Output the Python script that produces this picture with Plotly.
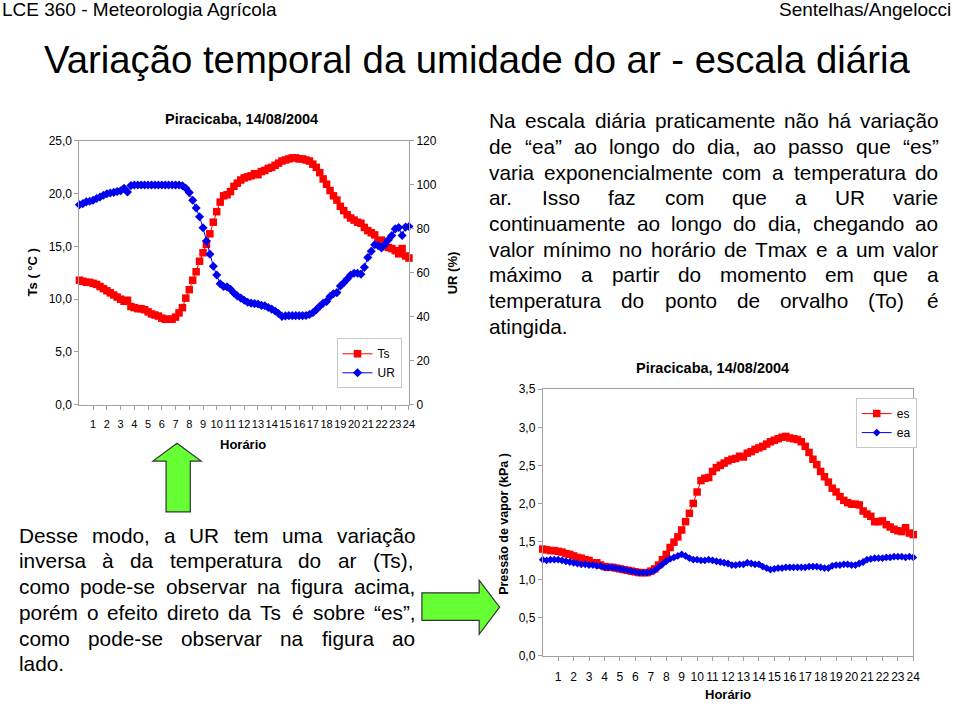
import plotly.graph_objects as go

# ---------------- data ----------------
hours = [i * 0.25 for i in range(97)]  # 00:00 .. 24:00, 15-min steps

ts = [11.8, 11.7, 11.6, 11.6,
      11.5, 11.4, 11.2, 11.0,
      10.8, 10.6, 10.4, 10.2,
      10.0, 9.8, 9.9, 9.3,
      9.2, 9.1, 9.1, 9.0,
      8.8, 8.6, 8.5, 8.4,
      8.2, 8.1, 8.1, 8.1,
      8.3, 8.7, 9.2, 10.1,
      10.9, 11.8, 12.6, 13.6,
      14.4, 15.2, 16.2, 17.3,
      18.3, 19.2, 19.8, 19.9,
      20.2, 20.7, 21.0, 21.3,
      21.5, 21.6, 21.7, 21.9,
      21.8, 22.1, 22.2, 22.4,
      22.5, 22.7, 22.9, 23.1,
      23.2, 23.3, 23.4, 23.4,
      23.3, 23.3, 23.2, 23.1,
      22.8, 22.5, 22.0, 21.4,
      20.9, 20.3, 19.8, 19.4,
      18.8, 18.4, 18.0, 17.7,
      17.5, 17.3, 17.2, 16.8,
      16.5, 16.3, 16.1, 15.5,
      15.6, 15.4, 14.9, 14.8,
      14.6, 14.3, 14.8, 14.1,
      13.9]

ur = [91.0, 91.5, 92.3, 92.6,
      93.0, 93.8, 94.5, 95.3,
      96.0, 96.3, 96.6, 97.0,
      97.3, 98.5, 96.8, 99.7,
      100, 100, 100, 100,
      100, 100, 100, 100,
      100, 100, 100, 100,
      100, 100, 99.6, 98.5,
      96.5, 93.0, 89.5, 85.5,
      80.5, 74.5, 68.5, 63.0,
      59.0, 55.0, 53.8, 53.6,
      52.5, 50.8, 49.5, 48.5,
      47.5, 46.6, 46.2, 46.0,
      45.8, 45.2, 45.0, 44.2,
      43.5, 42.6, 41.5, 40.2,
      40.4, 40.5, 40.5, 40.5,
      40.5, 40.5, 40.6, 41.0,
      41.8, 43.2, 44.8, 46.2,
      47.0, 49.2, 50.5, 51.0,
      54.0, 55.5, 57.2, 59.0,
      59.8, 59.8, 59.4, 62.5,
      67.0, 69.8, 72.8, 72.4,
      71.3, 73.0, 75.0, 77.0,
      80.0, 80.6, 77.0, 80.8,
      81.1]

es = [1.40, 1.39, 1.38, 1.38,
      1.37, 1.36, 1.34, 1.33,
      1.31, 1.29, 1.28, 1.26,
      1.25, 1.22, 1.22, 1.19,
      1.17, 1.16, 1.16, 1.15,
      1.14, 1.13, 1.12, 1.11,
      1.10, 1.09, 1.09, 1.09,
      1.11, 1.14, 1.19, 1.26,
      1.33, 1.42, 1.49, 1.56,
      1.65, 1.76, 1.87, 2.00,
      2.15, 2.30, 2.33, 2.34,
      2.42, 2.47, 2.50, 2.53,
      2.56, 2.58, 2.59, 2.62,
      2.61, 2.66, 2.68, 2.71,
      2.73, 2.75, 2.78, 2.81,
      2.83, 2.85, 2.87, 2.88,
      2.86, 2.85, 2.84, 2.81,
      2.75, 2.67, 2.58, 2.51,
      2.42, 2.35, 2.28, 2.20,
      2.15, 2.09, 2.04, 2.01,
      1.99, 1.99, 1.98, 1.90,
      1.86, 1.83, 1.76, 1.76,
      1.77, 1.72, 1.69, 1.66,
      1.64, 1.63, 1.68, 1.61,
      1.59]

ea = [1.26, 1.25, 1.26, 1.26,
      1.26, 1.25, 1.24, 1.23,
      1.22, 1.21, 1.20, 1.20,
      1.19, 1.19, 1.18, 1.18,
      1.16, 1.16, 1.16, 1.15,
      1.14, 1.13, 1.12, 1.11,
      1.10, 1.09, 1.09, 1.09,
      1.10, 1.12, 1.16, 1.20,
      1.24, 1.27, 1.29, 1.31,
      1.33, 1.31, 1.28, 1.26,
      1.26, 1.25, 1.25, 1.26,
      1.25, 1.24, 1.23, 1.22,
      1.21, 1.19, 1.19, 1.20,
      1.20, 1.22, 1.21, 1.20,
      1.20, 1.17, 1.15, 1.13,
      1.14, 1.15, 1.15, 1.16,
      1.16, 1.16, 1.16, 1.16,
      1.16, 1.17, 1.17, 1.17,
      1.16, 1.15, 1.15, 1.18,
      1.19, 1.19, 1.20, 1.20,
      1.19, 1.19, 1.21, 1.23,
      1.26, 1.27, 1.28, 1.28,
      1.28, 1.29, 1.29, 1.30,
      1.30, 1.30, 1.29, 1.30,
      1.29]

hour_ticks = list(range(1, 25))
hour_labels = [str(h) for h in hour_ticks]
ts_ticks = [0, 5, 10, 15, 20, 25]
ts_labels = ["0,0", "5,0", "10,0", "15,0", "20,0", "25,0"]
ur_ticks = [0, 20, 40, 60, 80, 100, 120]
ur_labels = ["0", "20", "40", "60", "80", "100", "120"]
e_ticks = [0, 0.5, 1.0, 1.5, 2.0, 2.5, 3.0, 3.5]
e_labels = ["0,0", "0,5", "1,0", "1,5", "2,0", "2,5", "3,0", "3,5"]

text_right = [
    "Na escala diária praticamente não há variação",
    "de “ea” ao longo do dia, ao passo que “es”",
    "varia exponencialmente com a temperatura do",
    "ar. Isso faz com que a UR varie",
    "continuamente ao longo do dia, chegando ao",
    "valor mínimo no horário de Tmax e a um valor",
    "máximo a partir do momento em que a",
    "temperatura do ponto de orvalho (To) é",
    "atingida.",
]
text_left = [
    "Desse modo, a UR tem uma variação",
    "inversa à da temperatura do ar (Ts),",
    "como pode-se observar na figura acima,",
    "porém o efeito direto da Ts é sobre “es”,",
    "como pode-se observar na figura ao",
    "lado.",
]

# ---------------- helpers ----------------
W, H = 960, 706
def PX(x):
    return x / W
def PY(y):
    return 1 - y / H

FONT = "Liberation Sans, Arial, Helvetica, sans-serif"
RED = "#FF0000"
BLUE = "#0000EE"
AXC = "#A0A0A0"

fig = go.Figure()
fig.add_trace(go.Scatter(x=hours, y=ts, name="Ts", mode="lines+markers",
                         line=dict(color=RED, width=1),
                         marker=dict(symbol="square", size=7.5, color=RED),
                         xaxis="x", yaxis="y", legend="legend", cliponaxis=False))
fig.add_trace(go.Scatter(x=hours, y=ur, name="UR", mode="lines+markers",
                         line=dict(color=BLUE, width=1),
                         marker=dict(symbol="diamond", size=7, color=BLUE),
                         xaxis="x", yaxis="y2", legend="legend", cliponaxis=False))
fig.add_trace(go.Scatter(x=hours, y=es, name="es", mode="lines+markers",
                         line=dict(color=RED, width=1),
                         marker=dict(symbol="square", size=7.5, color=RED),
                         xaxis="x2", yaxis="y3", legend="legend2", cliponaxis=False))
fig.add_trace(go.Scatter(x=hours, y=ea, name="ea", mode="lines+markers",
                         line=dict(color=BLUE, width=1),
                         marker=dict(symbol="diamond", size=6, color=BLUE),
                         xaxis="x2", yaxis="y3", legend="legend2", cliponaxis=False))

axis_common = dict(showgrid=False, zeroline=False, showline=True, linecolor=AXC,
                   linewidth=1, ticks="outside", ticklen=4, tickcolor=AXC,
                   tickfont=dict(family=FONT, size=12, color="#000"))

fig.update_layout(
    width=W, height=H, margin=dict(l=0, r=0, t=0, b=0),
    paper_bgcolor="white", plot_bgcolor="white",
    font=dict(family=FONT, color="#000"),
    hovermode=False,
    xaxis=dict(domain=[PX(80), PX(412)], range=[0, 24], anchor="y",
               tickvals=hour_ticks, ticktext=hour_labels, tickangle=0,
               ticklabelstandoff=5, mirror=True,
               **{**axis_common, "tickfont": dict(family=FONT, size=11, color="#000")}),
    yaxis=dict(domain=[PY(405.7), PY(136.7)], range=[0, 25], anchor="x",
               tickvals=ts_ticks, ticktext=ts_labels, mirror=False, **axis_common),
    yaxis2=dict(overlaying="y", side="right", range=[0, 120], anchor="x",
                tickvals=ur_ticks, ticktext=ur_labels, **axis_common),
    xaxis2=dict(domain=[PX(546.7), PX(920)], range=[0, 24], anchor="y3",
                tickvals=hour_ticks, ticktext=hour_labels, tickangle=0,
                ticklabelstandoff=6, mirror=True, **axis_common),
    yaxis3=dict(domain=[PY(661.7), PY(390)], range=[0, 3.5], anchor="x2",
                tickvals=e_ticks, ticktext=e_labels, mirror=True, **axis_common),
    legend=dict(x=PX(339), y=PY(338), xanchor="left", yanchor="top",
                bgcolor="white", bordercolor="#C8C8C8", borderwidth=1,
                font=dict(family=FONT, size=12), tracegroupgap=0, itemwidth=30),
    legend2=dict(x=PX(862), y=PY(399), xanchor="left", yanchor="top",
                 bgcolor="white", bordercolor="#C8C8C8", borderwidth=1,
                 font=dict(family=FONT, size=12), tracegroupgap=0, itemwidth=30),
)

ann = []
def txt(x, y, s, size, xanchor="center", bold=False, angle=0, family=FONT):
    ann.append(dict(x=PX(x), y=PY(y), xref="paper", yref="paper", text=("<b>%s</b>" % s) if bold else s,
                    showarrow=False, xanchor=xanchor, yanchor="middle", textangle=angle,
                    font=dict(family=family, size=size, color="#000")))

# header & title
txt(0, 3, "LCE 360 - Meteorologia Agrícola", 19, xanchor="left")
txt(960, 3, "Sentelhas/Angelocci", 19, xanchor="right")
txt(480, 54, "Variação temporal da umidade do ar - escala diária", 38.3)

# chart 1 labels
txt(243, 114, "Piracicaba, 14/08/2004", 14.5, bold=True)
txt(33, 271, "Ts ( °C )", 13, bold=True, angle=-90)
txt(456, 271, "UR (%)", 13, bold=True, angle=-90)
txt(245, 446, "Horário", 13, bold=True)

# chart 2 labels
txt(718, 368, "Piracicaba, 14/08/2004", 14.5, bold=True)
txt(507, 527, "Pressão de vapor (kPa )", 12.5, bold=True, angle=-90)
txt(733, 701, "Horário", 13, bold=True)

# ---- justified paragraph text (word placement from Arial-compatible advance widths) ----
CW = {' ': 278, 'a': 556, 'b': 556, 'c': 500, 'd': 556, 'e': 556, 'f': 278, 'g': 556, 'h': 556,
      'i': 222, 'j': 222, 'k': 500, 'l': 222, 'm': 833, 'n': 556, 'o': 556, 'p': 556, 'q': 556,
      'r': 333, 's': 500, 't': 278, 'u': 556, 'v': 500, 'w': 722, 'x': 500, 'y': 500, 'z': 500,
      'á': 556, 'à': 556, 'ã': 556, 'â': 556, 'é': 556, 'ê': 556, 'í': 278, 'ó': 556, 'õ': 556,
      'ú': 556, 'ç': 500, 'A': 667, 'D': 722, 'I': 278, 'N': 722, 'T': 611, 'U': 722, 'R': 722,
      'S': 667, '.': 278, ',': 278, '(': 333, ')': 333, '-': 333, '“': 333, '”': 333}

def wwidth(word, size):
    return sum(CW.get(ch, 556) for ch in word) * size / 1000.0

BODY = 20.8
def paragraph(lines, left, right, y0, dy):
    for k, line in enumerate(lines):
        y = y0 + k * dy
        words = line.split(" ")
        if k == len(lines) - 1 or len(words) == 1:
            txt(left, y, line, BODY, xanchor="left")
            continue
        widths = [wwidth(w, BODY) for w in words]
        gap = (right - left - sum(widths)) / (len(words) - 1)
        x = left
        for w, wd in zip(words, widths):
            txt(x, y, w, BODY, xanchor="left")
            x += wd + gap

paragraph(text_right, 491, 943, 116, 26.2)
paragraph(text_left, 17, 416, 539, 26.2)

fig.update_layout(annotations=ann)

# arrows
def path(pts):
    return "M " + " L ".join("%.5f,%.5f" % (PX(x), PY(y)) for x, y in pts) + " Z"

up_arrow = [(178.3, 445), (202.7, 463.3), (191.7, 463.3), (191.7, 515), (167.3, 515),
            (167.3, 463.3), (154, 463.3)]
right_arrow = [(503.3, 612.3), (482.7, 640), (482.7, 625.7), (425, 625.7), (425, 597.7),
               (482.7, 597.7), (482.7, 585)]
fig.update_layout(shapes=[
    dict(type="path", xref="paper", yref="paper", path=path(up_arrow),
         fillcolor="#66FF33", line=dict(color="#333333", width=1.2)),
    dict(type="path", xref="paper", yref="paper", path=path(right_arrow),
         fillcolor="#66FF33", line=dict(color="#333333", width=1.2)),
])

fig.write_html("out.html", config={"displayModeBar": False},
               post_script="document.body.style.margin='0';document.body.style.overflow='hidden';")
